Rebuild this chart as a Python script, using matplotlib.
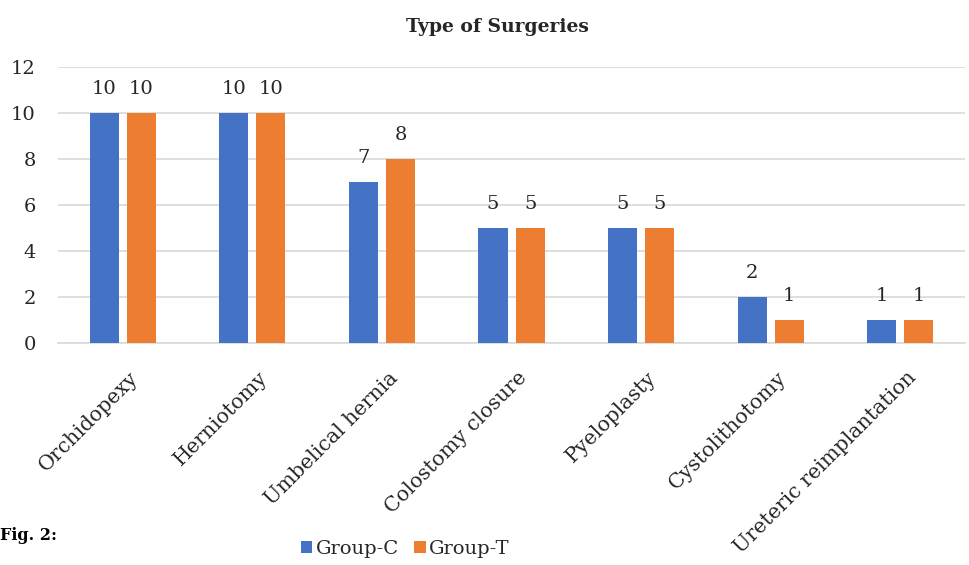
import matplotlib
matplotlib.use("Agg")
import matplotlib.pyplot as plt
import matplotlib.transforms as mtransforms
import numpy as np

categories = ["Orchidopexy", "Herniotomy", "Umbelical hernia", "Colostomy closure",
              "Pyeloplasty", "Cystolithotomy", "Ureteric reimplantation"]
group_c = [10, 10, 7, 5, 5, 2, 1]
group_t = [10, 10, 8, 5, 5, 1, 1]
yticks = [0, 2, 4, 6, 8, 10, 12]

plt.rcParams["font.family"] = ["DejaVu Serif"]

fig = plt.figure(figsize=(9.69, 5.65), dpi=100)
ax = fig.add_axes([0.0599, 0.3929, 0.936, 0.4885])

x = np.arange(len(categories))
w = 0.224
off = 0.143
b1 = ax.bar(x - off, group_c, w, color="#4472C4", label="Group-C", zorder=3)
b2 = ax.bar(x + off, group_t, w, color="#ED7D31", label="Group-T", zorder=3)

for bars in (b1, b2):
    ax.bar_label(bars, padding=11, fontsize=14, color="#262626")

ax.set_ylim(0, 12)
ax.set_xlim(-0.5, len(categories) - 0.5)
ax.set_yticks(yticks)
ax.yaxis.grid(True, color="#d9d9d9", linewidth=1.2, zorder=0)
ax.set_axisbelow(True)
for s in ("top", "right", "left"):
    ax.spines[s].set_visible(False)
ax.spines["bottom"].set_color("#d9d9d9")
ax.spines["bottom"].set_linewidth(1.2)
ax.tick_params(axis="y", length=0, labelsize=14, colors="#262626", pad=16)
ax.set_xticks(x)
ax.set_xticklabels(categories, rotation=45, ha="right", rotation_mode="anchor")
ax.tick_params(axis="x", length=0, labelsize=14.8, colors="#262626", pad=18)

# nudge the rotated category labels slightly to the right
shift = mtransforms.ScaledTranslation(6 / 100, 0, fig.dpi_scale_trans)
for lbl in ax.get_xticklabels():
    lbl.set_transform(lbl.get_transform() + shift)

fig.text(0.513, 0.952, "Type of Surgeries", ha="center", va="center",
         fontsize=13.5, fontweight="bold", color="#262626")
fig.text(0.0, 0.053, "Fig. 2:", ha="left", va="center", fontsize=11.5,
         fontweight="bold", color="black")

fig.legend(handles=[b1, b2], loc="center", bbox_to_anchor=(0.418, 0.028),
           ncol=2, frameon=False, fontsize=14, handlelength=0.6, handleheight=0.6,
           handletextpad=0.15, columnspacing=0.8, labelcolor="#262626")

fig.savefig("out.png", dpi=100)
